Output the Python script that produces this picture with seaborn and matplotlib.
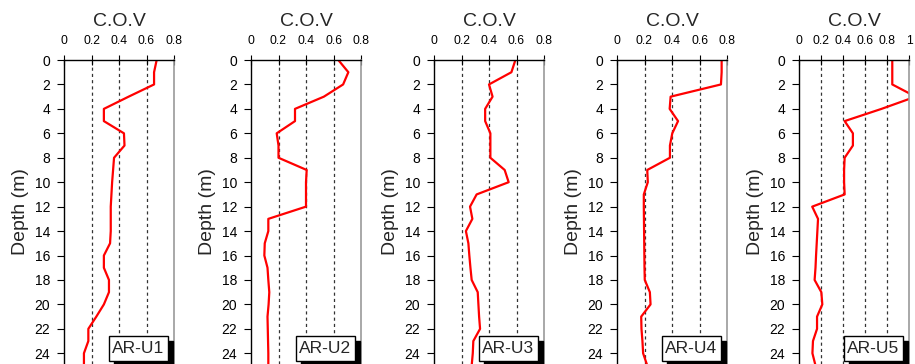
import numpy as np
import pandas as pd
import seaborn as sns
import matplotlib
matplotlib.use("Agg")
import matplotlib.pyplot as plt
from matplotlib.patches import Rectangle

sns.set_style("white")
plt.rcParams['font.family'] = ['Liberation Sans', 'DejaVu Sans']

depth = list(range(0, 26))

cov_u1 = [0.674, 0.655, 0.655, 0.47, 0.29, 0.29, 0.436, 0.44, 0.364, 0.357, 0.35, 0.345,
          0.34, 0.34, 0.34, 0.335, 0.29, 0.29, 0.327, 0.327, 0.29, 0.235, 0.177, 0.177, 0.145, 0.145]
cov_u2 = [0.635, 0.708, 0.67, 0.53, 0.32, 0.32, 0.187, 0.2, 0.2, 0.405, 0.4, 0.4,
          0.4, 0.126, 0.126, 0.10, 0.097, 0.12, 0.126, 0.133, 0.128, 0.12, 0.122, 0.124, 0.126, 0.126]
cov_u3 = [0.592, 0.563, 0.40, 0.426, 0.372, 0.372, 0.41, 0.41, 0.41, 0.514, 0.543, 0.31,
          0.262, 0.279, 0.232, 0.25, 0.257, 0.265, 0.274, 0.318, 0.323, 0.328, 0.335, 0.286, 0.282, 0.274]
cov_u4 = [0.761, 0.761, 0.756, 0.39, 0.383, 0.444, 0.402, 0.385, 0.385, 0.22, 0.224, 0.195,
          0.195, 0.196, 0.197, 0.198, 0.199, 0.20, 0.202, 0.239, 0.244, 0.176, 0.178, 0.185, 0.19, 0.22]
cov_u5 = [0.848, 0.848, 0.848, 1.06, 0.75, 0.415, 0.49, 0.49, 0.415, 0.41, 0.41, 0.415,
          0.12, 0.173, 0.167, 0.161, 0.155, 0.15, 0.142, 0.203, 0.212, 0.164, 0.164, 0.127, 0.122, 0.15]

series = [cov_u1, cov_u2, cov_u3, cov_u4, cov_u5]
labels = ["AR-U1", "AR-U2", "AR-U3", "AR-U4", "AR-U5"]
xmaxes = [0.8, 0.8, 0.8, 0.8, 1.0]
xticks_list = [[0, 0.2, 0.4, 0.6, 0.8]] * 4 + [[0, 0.2, 0.4, 0.6, 0.8, 1.0]]
xticklabels_list = [["0", "0.2", "0.4", "0.6", "0.8"]] * 4 + [["0", "0.2", "0.4", "0.6", "0.8", "1"]]
yticks = list(range(0, 26, 2))

W, H = 915, 364
fig = plt.figure(figsize=(W / 100, H / 100), dpi=100)

lefts_px = [64, 251, 434, 617, 799]
width_px = 110
top_px = 60
px_per_m = 12.22
ybottom = (H - top_px) / px_per_m

for i in range(5):
    lp = lefts_px[i]
    ax = fig.add_axes([lp / W, 0, width_px / W, (H - top_px) / H])
    df = pd.DataFrame({"Depth": depth, "COV": series[i]})
    sns.lineplot(data=df, x="COV", y="Depth", sort=False, estimator=None,
                 orient="y", color="#ff0000", lw=1.6, ax=ax)
    ax.set_xlim(0, xmaxes[i])
    ax.set_ylim(ybottom, 0)
    ax.xaxis.tick_top()
    ax.xaxis.set_label_position("top")
    ax.set_xticks(xticks_list[i])
    ax.set_xticklabels(xticklabels_list[i], fontsize=8.7)
    ax.set_yticks(yticks)
    ax.set_yticklabels([str(v) for v in yticks], fontsize=10)
    ax.tick_params(axis="x", direction="inout", length=7, width=0.8, pad=6, colors="black")
    ax.tick_params(axis="y", direction="out", length=5, width=0.8, pad=5, colors="black", left=True)
    ax.set_xlabel("C.O.V", fontsize=14, labelpad=6)
    ax.set_ylabel("Depth (m)", fontsize=14, labelpad=4)
    for g in xticks_list[i][1:-1]:
        ax.axvline(g, color="#333333", ls=(0, (2.5, 2.5)), lw=0.9, zorder=0)
    for s in ["left", "top"]:
        ax.spines[s].set_color("black")
        ax.spines[s].set_linewidth(1.0)
    ax.spines["right"].set_color("#999999")
    ax.spines["right"].set_linewidth(1.2)
    ax.spines["bottom"].set_visible(False)
    ax.grid(False)

    # label box with shadow
    right = lp + width_px - 6
    bw, bh = 59, 25
    btop = 336
    sh = 5
    fig.patches.append(Rectangle(((right - bw + sh) / W, (H - btop - bh - sh) / H), bw / W, bh / H,
                                 transform=fig.transFigure, fc="black", ec="black", zorder=5))
    fig.patches.append(Rectangle(((right - bw) / W, (H - btop - bh) / H), bw / W, bh / H,
                                 transform=fig.transFigure, fc="white", ec="black", lw=1.0, zorder=6))
    fig.text((right - bw / 2) / W, (H - btop - bh / 2) / H, labels[i], ha="center", va="center",
             fontsize=12.5, zorder=7)

fig.savefig("out.png", dpi=100)
